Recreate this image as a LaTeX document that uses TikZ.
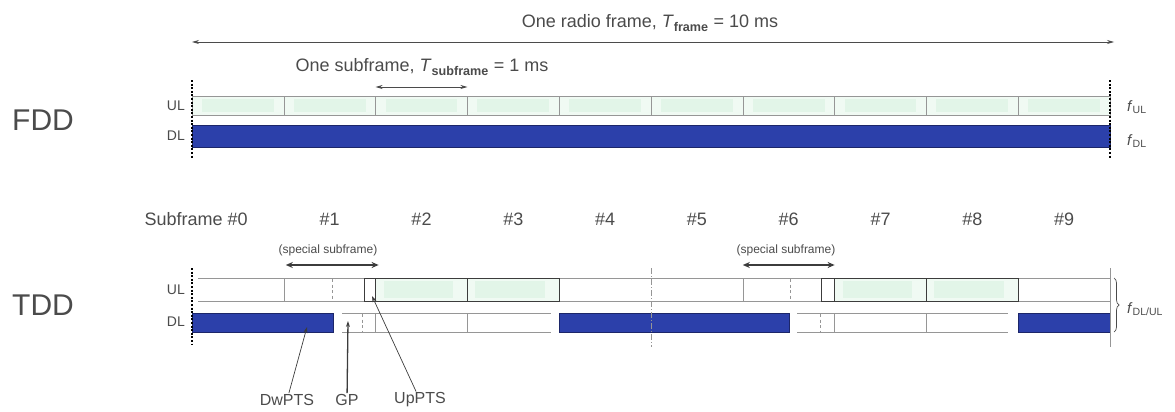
\documentclass[tikz,border=0pt]{standalone}
\usepackage{fontspec}
\setmainfont{Liberation Sans}
\usetikzlibrary{arrows.meta,decorations.pathreplacing}
\definecolor{txtgray}{RGB}{75,75,75}
\definecolor{dlblue}{RGB}{44,64,170}
\definecolor{dledge}{RGB}{28,38,105}
\definecolor{ulpale}{RGB}{240,250,243}
\definecolor{ulinner}{RGB}{226,245,232}
\definecolor{rowgray}{RGB}{150,150,150}
\definecolor{boxgray}{RGB}{60,60,60}
\newcommand\fsz[1]{\fontsize{#1}{#1}\selectfont}
\tikzset{
  lbl/.style={text=txtgray,inner sep=1pt},
  rowline/.style={draw=rowgray,line width=0.6pt},
  dlcell/.style={fill=dlblue,draw=dledge,line width=0.8pt},
  ulbox/.style={draw=boxgray,line width=0.9pt},
  framemark/.style={black,line width=1.6pt,dash pattern=on 2pt off 1.6pt},
  midmark/.style={rowgray,line width=0.5pt,dash pattern=on 6pt off 2pt on 1pt off 2pt},
  ptsmark/.style={rowgray,line width=0.9pt,dash pattern=on 3pt off 2.5pt},
  spanline/.style={txtgray,line width=0.7pt,{Stealth[length=7pt,width=4pt]}-{Stealth[length=7pt,width=4pt]}},
  specline/.style={boxgray,line width=2pt,{Stealth[length=7pt,width=6pt]}-{Stealth[length=7pt,width=6pt]}},
  ptr/.style={boxgray,line width=0.7pt,-{Stealth[length=6pt,width=4pt]}},
}
\begin{document}
\begin{tikzpicture}[x=1pt,y=-1pt]
  \def\frL{192} \def\frR{1110} \def\sfw{91.8}
  \useasboundingbox (0,0) rectangle (1175,412);
  % radio frame and subframe spans
  \coordinate (rfL) at (\frL,42); \coordinate (rfR) at (1114,42);
  \draw[spanline] (rfL) -- (rfR);
  \node[lbl,font=\fsz{18}] (rftext) at (650,23) {One radio frame, \textit{T}\textsubscript{\bfseries frame} = 10 ms};
  \node[lbl,font=\fsz{18}] (sftext) at (422,67) {One subframe, \textit{T}\textsubscript{\bfseries subframe} = 1 ms};
  \coordinate (sfL) at ({\frL+2*\sfw},87); \coordinate (sfR) at ({\frL+3*\sfw},87);
  \draw[spanline] (sfL) -- (sfR);
  % FDD
  \node[lbl,font=\fsz{30}] (fdd) at (43,120) {FDD};
  \node[lbl,font=\fsz{14},anchor=east] (fddul) at (186,106) {UL};
  \node[lbl,font=\fsz{14},anchor=east] (fdddl) at (186,136) {DL};
  \foreach \k in {0,...,9} {
    \fill[ulpale] ({\frL+\k*\sfw},96) rectangle ({\frL+(\k+1)*\sfw},115);
    \fill[ulinner] ({\frL+\k*\sfw+10},99) rectangle ({\frL+(\k+1)*\sfw-10},112);
  }
  \draw[rowline] (\frL,96) rectangle (\frR,115);
  \foreach \k in {1,...,9} \draw[rowline] ({\frL+\k*\sfw},96) -- ({\frL+\k*\sfw},115);
  \draw[dlcell] (\frL,125) rectangle (\frR,147);
  \draw[framemark] (\frL,80) -- (\frL,158);
  \draw[framemark] (\frR,80) -- (\frR,158);
  \node[lbl,font=\fsz{15},anchor=west] (ful) at (1126,107) {\textit{f}\textsubscript{UL}};
  \node[lbl,font=\fsz{15},anchor=west] (fdl) at (1126,141) {\textit{f}\textsubscript{DL}};
  % TDD subframe numbers
  \node[lbl,font=\fsz{18},anchor=east] (sf0) at ({\frL+0.5*\sfw+11},219) {Subframe \#0};
  \foreach \k in {1,...,9}
    \node[lbl,font=\fsz{18}] (sf\k) at ({\frL+(\k+0.5)*\sfw},219) {\#\k};
  \node[lbl,font=\fsz{12}] (spec1) at (328,250) {(special subframe)};
  \node[lbl,font=\fsz{12}] (spec6) at (786,250) {(special subframe)};
  \coordinate (sp1L) at ({\frL+\sfw+2},265); \coordinate (sp1R) at ({\frL+2*\sfw+3},265);
  \coordinate (sp6L) at ({\frL+6*\sfw},265); \coordinate (sp6R) at ({\frL+7*\sfw},265);
  \draw[specline] (sp1L) -- (sp1R);
  \draw[specline] (sp6L) -- (sp6R);
  % TDD
  \node[lbl,font=\fsz{30}] (tdd) at (43,305) {TDD};
  \node[lbl,font=\fsz{14},anchor=east] (tddul) at (186,290) {UL};
  \node[lbl,font=\fsz{14},anchor=east] (tdddl) at (186,322) {DL};
  % UL row
  \draw[rowline] (198,278) -- (\frR,278) (198,301) -- (\frR,301);
  \draw[rowline] ({\frL+\sfw},278) -- ({\frL+\sfw},301);
  \draw[rowline] ({\frL+6*\sfw},278) -- ({\frL+6*\sfw},301);
  \draw[ptsmark] (332,279) -- (332,300);
  \draw[ptsmark] (790,279) -- (790,300);
  \foreach \k in {2,3,7,8} {
    \fill[ulpale] ({\frL+\k*\sfw},278) rectangle ({\frL+(\k+1)*\sfw},301);
    \fill[ulinner] ({\frL+\k*\sfw+8},281) rectangle ({\frL+(\k+1)*\sfw-14},298);
  }
  \draw[ulbox] (364,278) rectangle ({\frL+4*\sfw},301);
  \draw[ulbox] ({\frL+2*\sfw},278) -- ({\frL+2*\sfw},301) ({\frL+3*\sfw},278) -- ({\frL+3*\sfw},301);
  \draw[ulbox] (821,278) rectangle ({\frL+9*\sfw},301);
  \draw[ulbox] ({\frL+7*\sfw},278) -- ({\frL+7*\sfw},301) ({\frL+8*\sfw},278) -- ({\frL+8*\sfw},301);
  % DL row
  \draw[rowline] (342,313) -- (551,313) (342,332) -- (551,332);
  \draw[rowline] (797,313) -- (1008,313) (797,332) -- (1008,332);
  \draw[ptsmark] (362,314) -- (362,331);
  \draw[ptsmark] (820,314) -- (820,331);
  \foreach \k in {2,3,7,8}
    \draw[rowline] ({\frL+\k*\sfw},313) -- ({\frL+\k*\sfw},332);
  \draw[dlcell] (\frL,313) rectangle (333,332);
  \draw[dlcell] ({\frL+4*\sfw},313) rectangle (789,332);
  \draw[dlcell] ({\frL+9*\sfw},313) rectangle (\frR,332);
  % frame marks
  \draw[framemark] (\frL,268) -- (\frL,345);
  \draw[rowgray,line width=0.6pt] (\frR,268) -- (\frR,347);
  \draw[midmark] ({\frL+5*\sfw},268) -- ({\frL+5*\sfw},347);
  % brace
  \coordinate (brT) at (1114,278); \coordinate (brB) at (1114,332);
  \draw[txtgray,line width=0.7pt,decorate,decoration={brace,amplitude=5pt}] (brT) -- (brB);
  \node[lbl,font=\fsz{15},anchor=west] (fdlul) at (1126,309) {\textit{f}\textsubscript{DL/UL}};
  % special subframe parts
  \node[lbl,font=\fsz{16}] (dwpts) at (287,400) {DwPTS};
  \node[lbl,font=\fsz{16}] (gp) at (347,400) {GP};
  \node[lbl,font=\fsz{16}] (uppts) at (420,400) {UpPTS};
  \coordinate (dwtip) at (307,327); \coordinate (gptip) at (348,321); \coordinate (uptip) at (372,296);
  \draw[ptr] (dwpts) -- (dwtip);
  \draw[ptr,line width=1.3pt] (gp) -- (gptip);
  \draw[ptr] (uppts) -- (uptip);
\end{tikzpicture}
\end{document}
